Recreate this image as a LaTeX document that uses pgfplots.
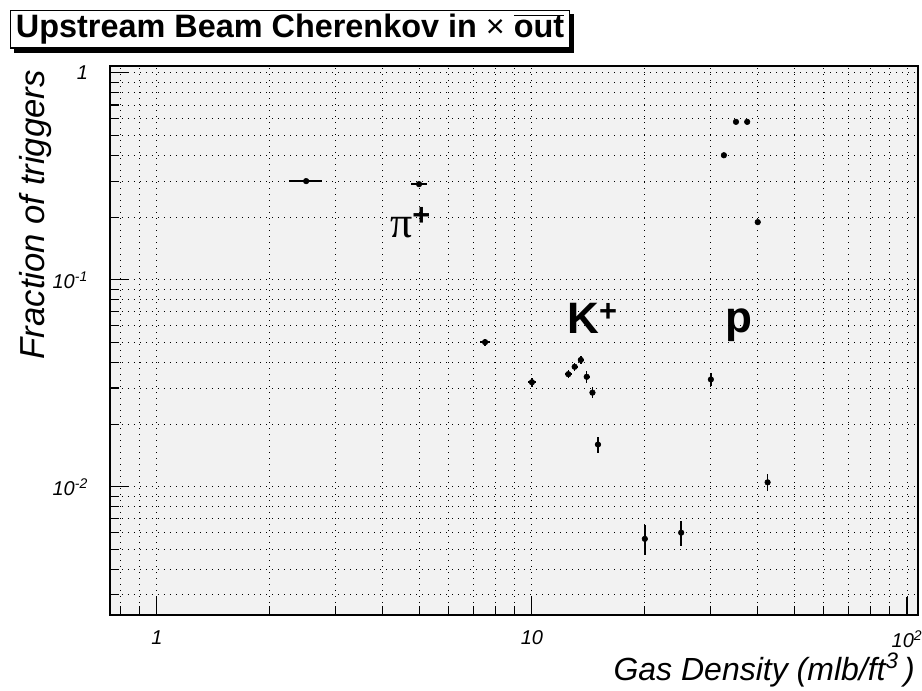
\documentclass[border=0pt]{standalone}
\usepackage{pgfplots}
\pgfplotsset{compat=1.18}
\usepackage{pgfplotstable}
\usepackage{fontspec}
\setmainfont{Liberation Sans}
\newfontfamily\serifgreek{Liberation Serif}

\pgfplotstableread{
x y ex ey
2.5 0.300 0.25 0.004
5.0 0.290 0.25 0.005
7.5 0.050 0.25 0.002
10 0.032 0.25 0.0017
12.5 0.035 0.25 0.0015
13 0.038 0.25 0.0016
13.5 0.041 0.25 0.0019
14 0.034 0.25 0.0022
14.5 0.0285 0.25 0.0017
15 0.016 0.25 0.0014
20 0.0056 0.25 0.0009
25 0.0060 0.25 0.0008
30 0.033 0.25 0.0023
32.5 0.40 0.25 0.006
35 0.58 0.25 0.008
37.5 0.58 0.25 0.008
40 0.19 0.25 0.004
42.5 0.0105 0.25 0.001
}\data

\begin{document}
\begin{tikzpicture}[x=0.75pt,y=0.75pt]
\fill[white] (0,0) rectangle (922,691);
\useasboundingbox (0,0) rectangle (922,691);
\begin{axis}[
 at={(82.5pt,57pt)}, anchor=south west,
 scale only axis, width=606pt, height=411.75pt,
 xmode=log, ymode=log,
 xmin=0.75, xmax=107, ymin=0.0024, ymax=1.08,
 axis background/.style={fill=black!5},
 axis line style={line width=1.1pt},
 tick pos=left, tick align=inside,
 major tick length=13.5pt, minor tick length=6.5pt,
 tick style={black, line width=0.8pt},
 xtick={1,10,100}, xticklabels={1,10,10\textsuperscript{2}},
 ytick={0.01,0.1,1}, yticklabels={10\textsuperscript{-2},10\textsuperscript{-1},1},
 minor xtick={0.8,0.9,2,3,4,5,6,7,8,9,20,30,40,50,60,70,80,90},
 minor ytick={0.003,0.004,0.005,0.006,0.007,0.008,0.009,0.02,0.03,0.04,0.05,0.06,0.07,0.08,0.09,0.2,0.3,0.4,0.5,0.6,0.7,0.8,0.9},
 grid=both,
 major grid style={black, line width=0.7pt, dash pattern=on 0.7pt off 3.8pt},
 minor grid style={black, line width=0.7pt, dash pattern=on 0.7pt off 3.8pt},
 ticklabel style={font=\itshape\fontsize{15}{15}\selectfont},
 xticklabel style={yshift=-8pt},
 yticklabel style={xshift=-13pt},
]
\addplot[only marks, mark=*, mark size=2.1pt, black,
  error bars/.cd, x dir=both, x explicit, y dir=both, y explicit,
  error bar style={line width=1.1pt, black}, error mark=none]
  table[x=x,y=y,x error=ex,y error=ey]{\data};
\node[anchor=base west, inner sep=0, font=\fontsize{33}{33}\selectfont] at (axis cs:4.18,0.1596) {{\serifgreek π}\textsuperscript{\bfseries +}};
\node[anchor=base west, inner sep=0, font=\bfseries\fontsize{33}{33}\selectfont] at (axis cs:12.4,0.0548) {K\textsuperscript{+}};
\node[anchor=base west, inner sep=0, font=\bfseries\fontsize{33}{33}\selectfont] at (axis cs:32.7,0.0555) {p};
\end{axis}
% title box with shadow
\node[draw, line width=1pt, fill=white, anchor=north west, inner xsep=4pt, inner ysep=2.5pt, font=\bfseries\fontsize{24.3}{24.3}\selectfont] (T) at (10,681) {Upstream Beam Cherenkov in {\mdseries ×} $\overline{\mbox{out}}$};
\fill[black] ([yshift=-3pt]T.north east) rectangle ([xshift=3pt,yshift=-3pt]T.south east);
\fill[black] ([xshift=3pt]T.south west) rectangle ([xshift=3pt,yshift=-3pt]T.south east);
% axis labels
\node[anchor=base east, inner sep=0, font=\itshape\fontsize{24}{24}\selectfont] at (915,10) {Gas Density (mlb/ft\textsuperscript{3}\,)};
\node[anchor=base east, rotate=90, inner sep=0, font=\itshape\fontsize{26}{26}\selectfont] at (44,621) {Fraction of triggers};
\end{tikzpicture}
\end{document}
